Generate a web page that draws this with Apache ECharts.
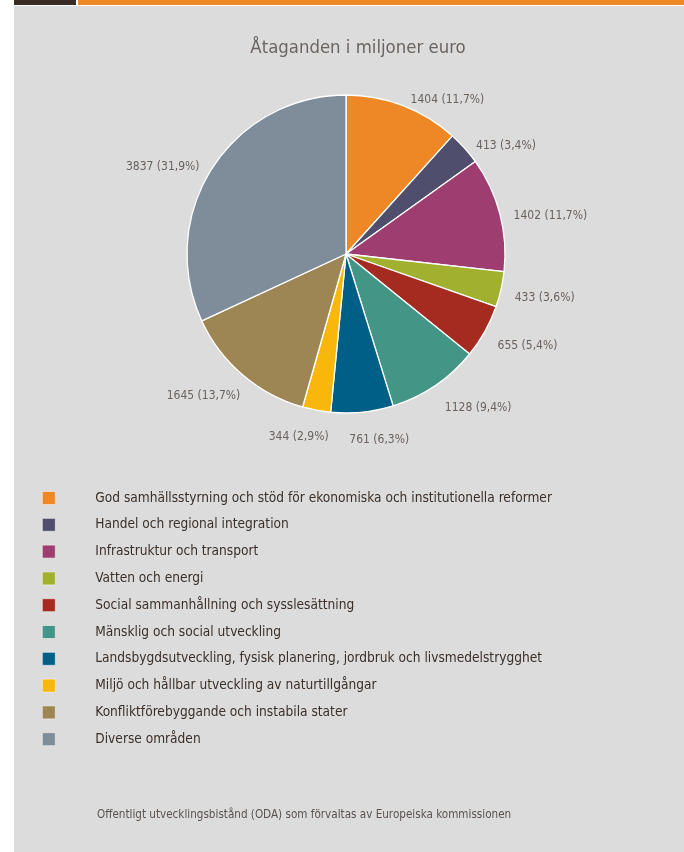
<!DOCTYPE html>
<html>
<head>
<meta charset="utf-8">
<script src="https://cdn.jsdelivr.net/npm/echarts@6/dist/echarts.min.js"></script>
<style>
html,body{margin:0;padding:0;background:#fff;}
#c{width:684px;height:852px;}
</style>
</head>
<body>
<div id="c"></div>
<script>
const categories = [
  'God samhällsstyrning och stöd för ekonomiska och institutionella reformer',
  'Handel och regional integration',
  'Infrastruktur och transport',
  'Vatten och energi',
  'Social sammanhållning och sysslesättning',
  'Mänsklig och social utveckling',
  'Landsbygdsutveckling, fysisk planering, jordbruk och livsmedelstrygghet',
  'Miljö och hållbar utveckling av naturtillgångar',
  'Konfliktförebyggande och instabila stater',
  'Diverse områden'
];
const values = [1404, 413, 1402, 433, 655, 1128, 761, 344, 1645, 3837];
const percents = ['11,7', '3,4', '11,7', '3,6', '5,4', '9,4', '6,3', '2,9', '13,7', '31,9'];
const colors = ['#EE8827', '#4F4F6D', '#9E3D6F', '#A2B02F', '#A52A1F', '#439585', '#005F86', '#F8B70A', '#9E8654', '#7F8C99'];
const titleText = 'Åtaganden i miljoner euro';
const footerText = 'Offentligt utvecklingsbistånd (ODA) som förvaltas av Europeiska kommissionen';

const FONT = "'Liberation Sans Narrow', 'DejaVu Sans Condensed', sans-serif";
const CX = 346, CY = 254;
const chart = echarts.init(document.getElementById('c'), null, {renderer: 'canvas'});
const data = categories.map((n, i) => ({
  name: n, value: values[i], pct: percents[i], itemStyle: {color: colors[i]}
}));
chart.setOption({
  backgroundColor: '#ffffff',
  animation: false,
  graphic: [
    {type: 'rect', z: -10, shape: {x: 14, y: 6, width: 670, height: 846}, style: {fill: '#DCDCDC'}},
    {type: 'rect', shape: {x: 14, y: 0, width: 62, height: 5}, style: {fill: '#3A2C24'}},
    {type: 'rect', shape: {x: 78, y: 0, width: 606, height: 5}, style: {fill: '#EE8827'}},
    {type: 'text', left: 97, top: 809, style: {text: footerText, fill: '#5A524F', font: "11.6px " + FONT}}
  ],
  title: {
    text: titleText, left: 353, top: 34, textAlign: 'center',
    textStyle: {fontFamily: FONT, fontSize: 18.4, fontWeight: 'normal', color: '#6B6461'}
  },
  legend: {
    orient: 'vertical', left: 37, top: 484,
    itemWidth: 13, itemHeight: 13, itemGap: 8.8,
    icon: 'rect',
    itemStyle: {borderColor: '#f4f4f4', borderWidth: 0.6},
    textStyle: {fontFamily: FONT, fontSize: 13.6, color: '#3B2F28', lineHeight: 18, padding: [0, 0, 0, 35]},
    data: categories
  },
  series: [{
    type: 'pie',
    center: [CX, CY],
    radius: [0, 159],
    startAngle: 90,
    clockwise: true,
    avoidLabelOverlap: false,
    itemStyle: {borderColor: '#ffffff', borderWidth: 1.3},
    label: {
      show: true, position: 'outside',
      formatter: p => p.value + ' (' + p.data.pct + '%)',
      fontFamily: FONT, fontSize: 12, color: '#6B625E',
      distanceToLabelLine: 4
    },
    labelLine: {show: false, length: 10, length2: 0},
    labelLayout: function (p) {
      const r = p.labelRect;
      const mx = r.x + r.width / 2 - CX, my = r.y + r.height / 2 - CY;
      const len = Math.sqrt(mx * mx + my * my) || 1;
      const ux = mx / len, uy = my / len;
      let dx = 0;
      if (Math.abs(ux) < 0.4 && uy > 0) dx = -Math.sign(ux) * r.width * 0.3;
      else if (ux < 0 && uy > 0) dx = 8;
      return {dx: dx, dy: 4 + 14 * Math.max(0, uy)};
    },
    emphasis: {disabled: true},
    data: data
  }]
});
</script>
</body>
</html>
